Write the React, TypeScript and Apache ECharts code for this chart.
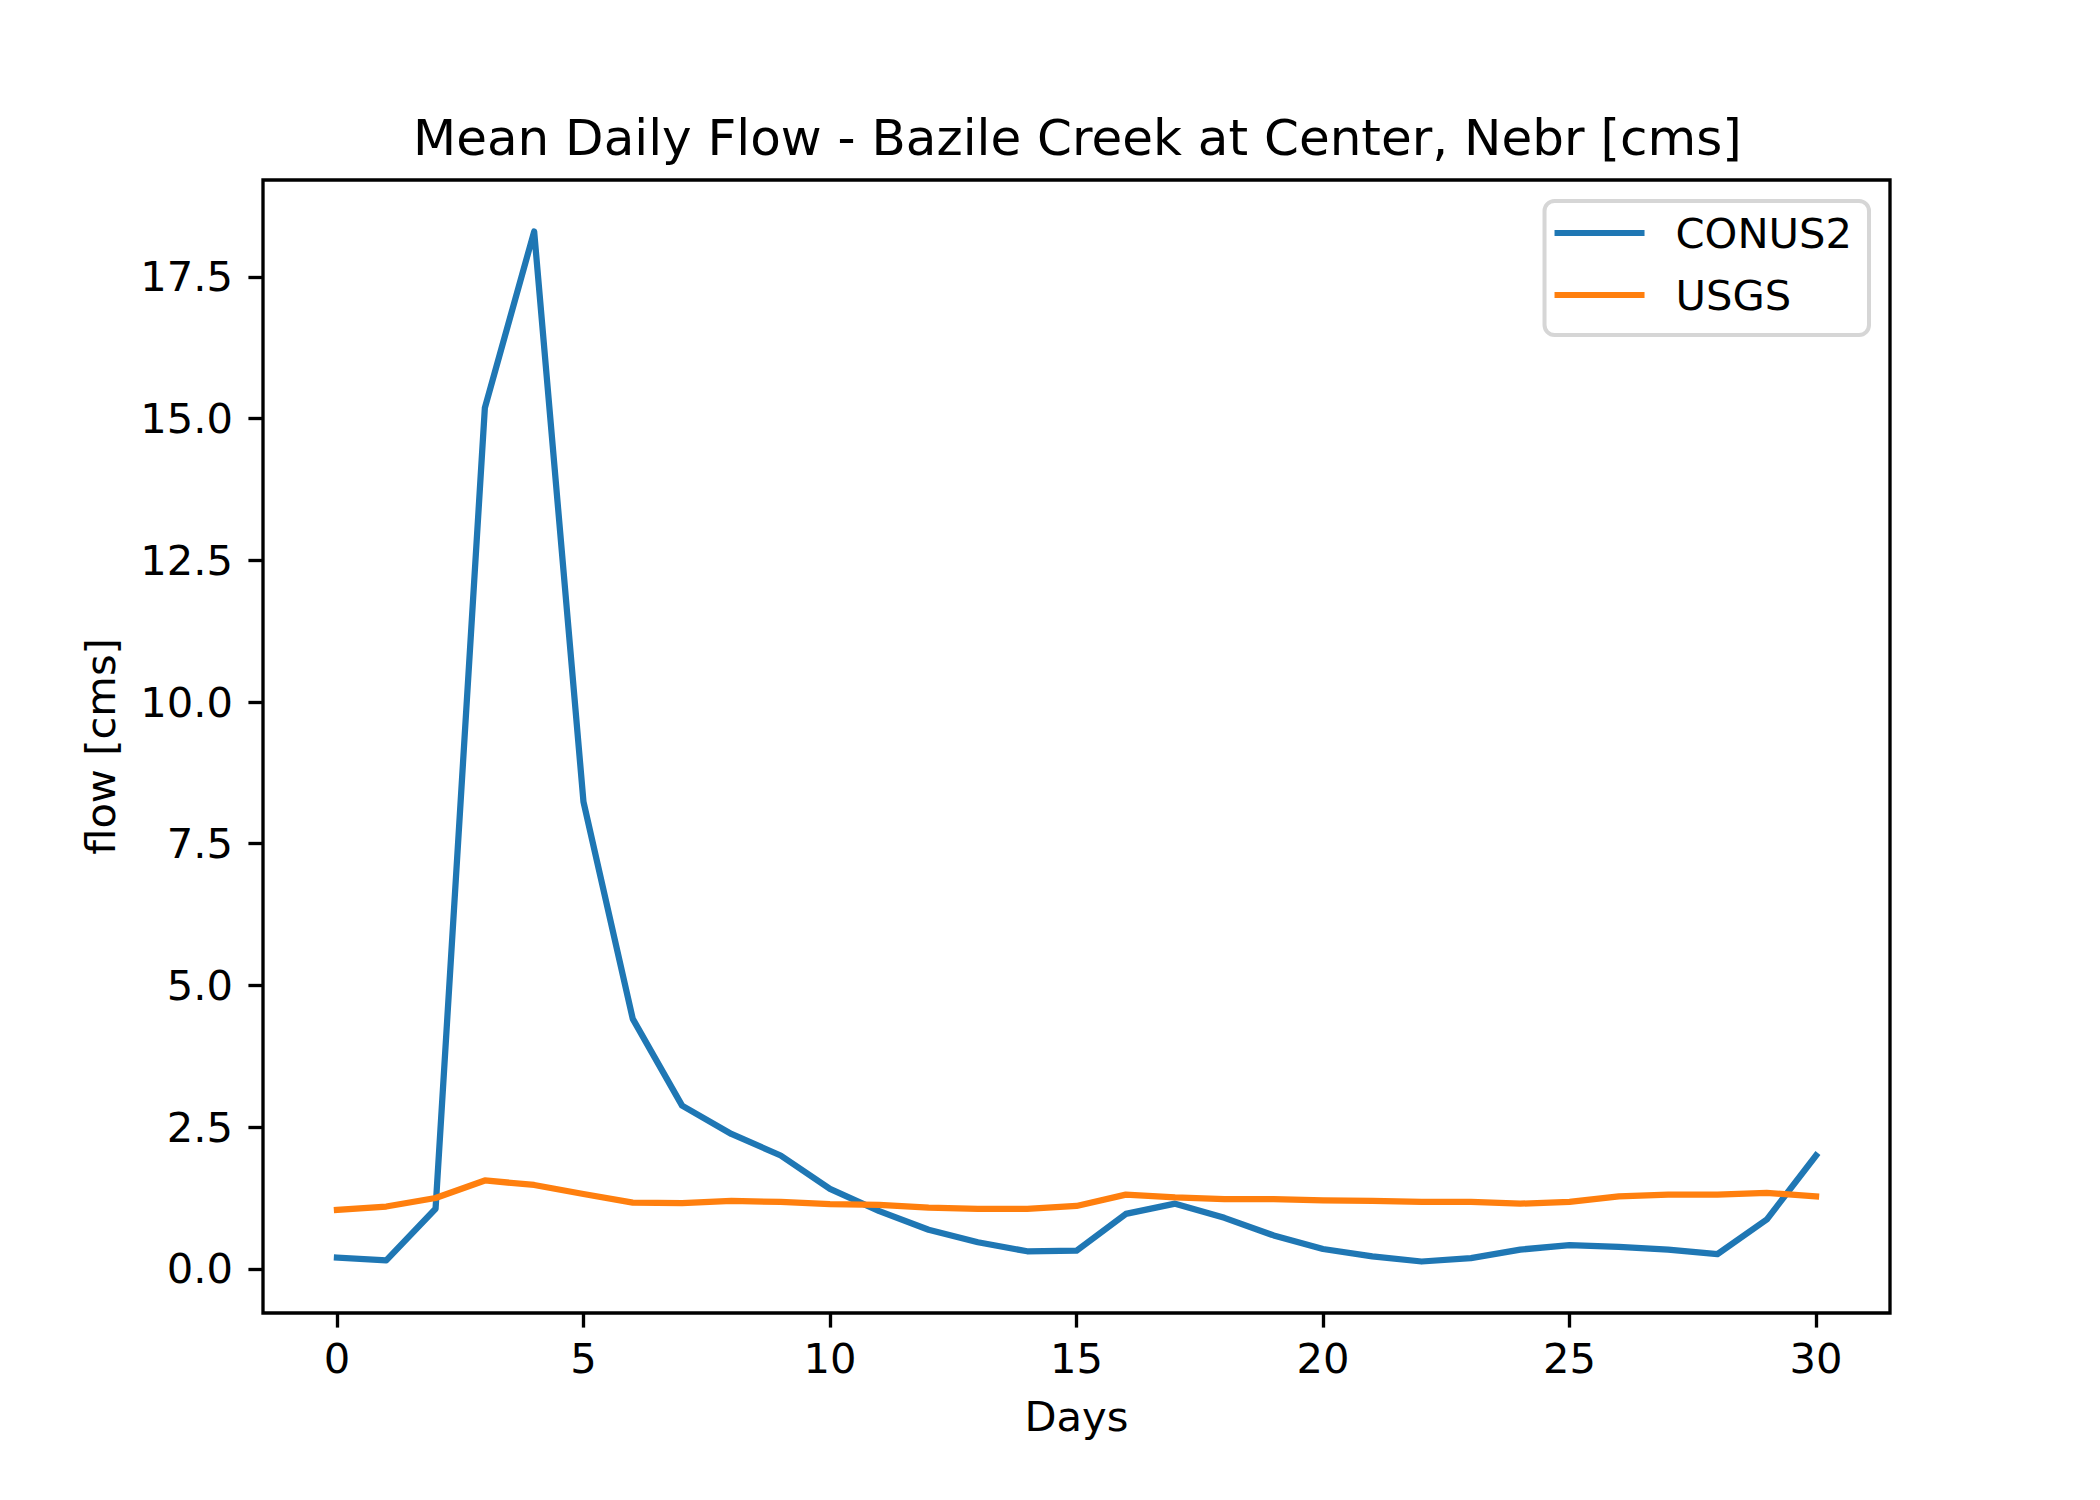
import { useEffect, useRef } from "react";
import * as echarts from "echarts";

// day index on the x axis
const days = [
  0, 1, 2, 3, 4, 5, 6, 7, 8, 9, 10, 11, 12, 13, 14, 15, 16, 17, 18, 19, 20, 21, 22, 23, 24, 25,
  26, 27, 28, 29, 30,
];

// mean daily flow [cms]
const conus2 = [
  0.2, 0.15, 1.06, 15.19, 18.3, 8.24, 4.41, 2.88, 2.38, 2.0, 1.41, 1.02, 0.69, 0.47, 0.31, 0.32,
  0.97, 1.15, 0.9, 0.59, 0.35, 0.22, 0.13, 0.19, 0.34, 0.42, 0.39, 0.34, 0.26, 0.87, 2.0,
];
const usgs = [
  1.04, 1.1, 1.25, 1.56, 1.48, 1.32, 1.17, 1.16, 1.2, 1.18, 1.14, 1.13, 1.08, 1.06, 1.06, 1.11,
  1.31, 1.26, 1.23, 1.23, 1.21, 1.2, 1.18, 1.18, 1.15, 1.18, 1.28, 1.31, 1.31, 1.34, 1.28,
];

const xTicks = [0, 5, 10, 15, 20, 25, 30];
const yTicks = [0, 2.5, 5, 7.5, 10, 12.5, 15, 17.5];

const FONT = "DejaVu Sans";
const PT = 300 / 72; // matplotlib points -> px at 300 dpi

// matplotlib-style 5% autoscale margins
const pad = (lo: number, hi: number) => {
  const m = (hi - lo) * 0.05;
  return [lo - m, hi + m];
};

export default function App() {
  const ref = useRef<HTMLDivElement>(null);

  useEffect(() => {
    document.body.style.margin = "0";
    if (!ref.current) return;
    const chart = echarts.init(ref.current, null, { renderer: "svg" });
    const [xMin, xMax] = pad(Math.min(...days), Math.max(...days));
    const all = [...conus2, ...usgs];
    const [yMin, yMax] = pad(Math.min(...all), Math.max(...all));
    const tick = { show: true, inside: false, length: 3.5 * PT, lineStyle: { color: "#000", width: 0.8 * PT } };
    const label = { color: "#000", fontFamily: FONT, fontSize: 10 * PT };

    chart.setOption({
      animation: false,
      backgroundColor: "#fff",
      title: {
        text: "Mean Daily Flow - Bazile Creek at Center, Nebr [cms]",
        left: 413,
        top: 112,
        padding: 0,
        textStyle: { color: "#000", fontFamily: FONT, fontSize: 12 * PT, fontWeight: "normal", lineHeight: 52 },
      },
      grid: {
        left: 263,
        top: 180,
        width: 1627,
        height: 1133,
        show: true,
        borderColor: "#000",
        borderWidth: 0.8 * PT,
        backgroundColor: "#fff",
      },
      legend: {
        orient: "vertical",
        right: 231,
        top: 201,
        padding: [7, 17, 15, 10],
        itemGap: 12,
        itemWidth: 90,
        itemHeight: 6,
        icon: "rect",
        backgroundColor: "#fff",
        borderColor: "#d6d6d6",
        borderWidth: 4,
        borderRadius: 10,
        textStyle: { ...label, lineHeight: 50, padding: [0, 0, 0, 26] },
        data: ["CONUS2", "USGS"],
      },
      xAxis: {
        type: "value",
        min: xMin,
        max: xMax,
        name: "Days",
        nameLocation: "middle",
        nameGap: 82,
        nameTextStyle: label,
        axisLine: { show: false, onZero: false },
        axisTick: { ...tick, customValues: xTicks },
        axisLabel: { ...label, margin: 24, customValues: xTicks },
        splitLine: { show: false },
      },
      yAxis: {
        type: "value",
        min: yMin,
        max: yMax,
        name: "flow [cms]",
        nameLocation: "middle",
        nameGap: 142,
        nameTextStyle: label,
        axisLine: { show: false, onZero: false },
        axisTick: { ...tick, customValues: yTicks },
        axisLabel: { ...label, margin: 30, customValues: yTicks, formatter: (v: number) => v.toFixed(1) },
        splitLine: { show: false },
      },
      series: [
        {
          name: "CONUS2",
          type: "line",
          data: days.map((d, i) => [d, conus2[i]]),
          showSymbol: false,
          symbol: "none",
          color: "#1f77b4",
          lineStyle: { color: "#1f77b4", width: 1.5 * PT, cap: "square", join: "round" },
        },
        {
          name: "USGS",
          type: "line",
          data: days.map((d, i) => [d, usgs[i]]),
          showSymbol: false,
          symbol: "none",
          color: "#ff7f0e",
          lineStyle: { color: "#ff7f0e", width: 1.5 * PT, cap: "square", join: "round" },
        },
      ],
    });
    return () => chart.dispose();
  }, []);

  return <div ref={ref} style={{ width: 2100, height: 1500 }} />;
}
